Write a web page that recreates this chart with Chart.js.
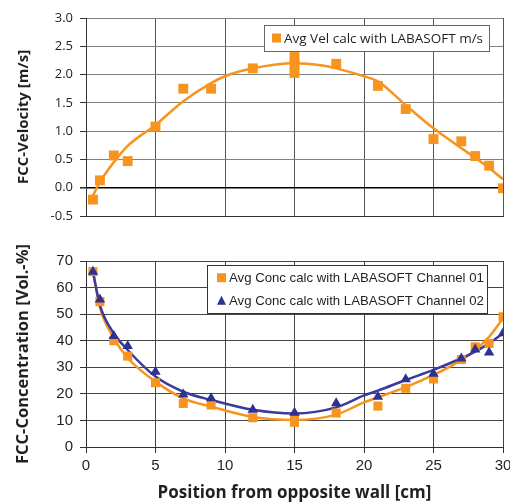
<!DOCTYPE html>
<html>
<head>
<meta charset="utf-8">
<script src="https://cdn.jsdelivr.net/npm/chart.js@4.4.1/dist/chart.umd.min.js"></script>
<style>
html, body { margin: 0; padding: 0; background: #fff; }
#wrap { position: relative; width: 510px; height: 503px; }
#velBox { position: absolute; left: 0; top: 0; width: 510px; height: 232px; }
#concBox { position: absolute; left: 0; top: 232px; width: 510px; height: 271px; }
</style>
</head>
<body>
<div id="wrap">
  <div id="velBox"><canvas id="velChart"></canvas></div>
  <div id="concBox"><canvas id="concChart"></canvas></div>
</div>
<script>
// measured points, position from opposite wall [cm]
var velX = [0.5, 1, 2, 3, 5, 7, 9, 12, 15, 15, 15, 18, 21, 23, 25, 27, 28, 29, 30];
var velVals = [-0.21, 0.13, 0.57, 0.47, 1.08, 1.75, 1.75, 2.11, 2.31, 2.18, 2.03, 2.19, 1.80, 1.39, 0.86, 0.82, 0.56, 0.39, -0.01];

// trend line
var velTrendX = [0.5, 1, 2, 3, 5, 7, 9, 10, 12, 15, 17, 18, 20, 21, 23, 25, 27, 28, 29, 30];
var velTrend = [-0.14, 0.10, 0.45, 0.74, 1.11, 1.53, 1.85, 1.97, 2.11, 2.20, 2.16, 2.11, 1.97, 1.88, 1.46, 1.05, 0.70, 0.53, 0.35, 0.15];

var conc01X = [0.5, 1, 2, 3, 5, 7, 9, 12, 15, 15, 18, 21, 23, 25, 27, 28, 29, 30];
var conc01 = [66.0, 54.7, 40.0, 34.2, 24.2, 16.4, 15.8, 11.0, 10.6, 9.3, 12.8, 15.4, 22.1, 25.6, 32.9, 37.7, 39.0, 49.0];
var conc02X = [0.5, 1, 2, 3, 5, 7, 9, 12, 15, 18, 21, 23, 25, 27, 28, 29, 30];
var conc02 = [66.0, 55.5, 41.8, 38.0, 28.3, 19.8, 18.3, 14.0, 12.9, 16.5, 18.9, 25.5, 27.6, 33.3, 36.7, 35.6, 42.8];

var concTrendX = [0.5, 1, 2, 3, 5, 7, 9, 12, 15, 18, 20, 21, 23, 25, 27, 28, 29, 30];
var conc01Trend = [66, 52.5, 41, 33.5, 24.6, 18.3, 15.2, 11.3, 10.2, 12.2, 16.8, 18.7, 22.5, 27.1, 32.7, 36.5, 41.5, 48.4];
var conc02Trend = [66, 53.4, 42.8, 36.5, 26.5, 20.8, 17.7, 14.0, 12.6, 14.9, 19.4, 21.2, 25.2, 29.0, 33.4, 35.9, 39.0, 42.8];

var xTicks = [0, 5, 10, 15, 20, 25, 30];
var velTicks = [-0.5, 0, 0.5, 1, 1.5, 2, 2.5, 3];
var concTicks = [0, 10, 20, 30, 40, 50, 60, 70];

var ORANGE = '#F7941D';
var NAVY = '#2E3192';
var BLUE_LINE = '#3A3C9C';
var INK = '#231F20';

function toXY(xs, ys) {
  return xs.map(function (x, i) { return { x: x, y: ys[i] }; });
}

function fixTicks(list) {
  return function (scale) {
    scale.ticks = list.map(function (v) { return { value: v }; });
  };
}

// legend box drawn inside the plot area
var boxLegend = {
  id: 'boxLegend',
  afterDraw: function (chart, args, opts) {
    var ctx = chart.ctx, area = chart.chartArea;
    var items = chart.data.datasets.filter(function (d) { return d.legendRank; })
      .sort(function (a, b) { return a.legendRank - b.legendRank; });
    ctx.save();
    ctx.font = opts.font;
    var textW = 0;
    items.forEach(function (d) { textW = Math.max(textW, ctx.measureText(d.label).width); });
    var w = Math.round(opts.padLeft + opts.marker + opts.gap + textW + opts.padRight);
    var h = Math.round(opts.rowH * items.length + opts.padV * 2);
    var x = Math.round(area.right - opts.right - w), y = Math.round(area.top + opts.top);
    ctx.fillStyle = '#fff';
    ctx.fillRect(x, y, w, h);
    ctx.strokeStyle = opts.border;
    ctx.lineWidth = 1;
    ctx.strokeRect(x + 0.5, y + 0.5, w, h);
    items.forEach(function (d, i) {
      var cy = y + opts.padV + opts.rowH * (i + 0.5);
      var mx = x + opts.padLeft;
      var m = opts.marker;
      ctx.fillStyle = d.backgroundColor;
      if (d.pointStyle === 'triangle') {
        ctx.beginPath();
        ctx.moveTo(mx + m / 2, cy - m / 2);
        ctx.lineTo(mx + m, cy + m / 2);
        ctx.lineTo(mx, cy + m / 2);
        ctx.closePath();
        ctx.fill();
      } else {
        ctx.fillRect(mx, cy - m / 2, m, m);
      }
      ctx.fillStyle = INK;
      ctx.textBaseline = 'middle';
      ctx.textAlign = 'left';
      ctx.fillText(d.label, mx + m + opts.gap, cy + 1);
    });
    ctx.restore();
  }
};

Chart.defaults.animation = false;
Chart.defaults.plugins.tooltip.enabled = false;
Chart.defaults.plugins.legend.display = false;

new Chart(document.getElementById('velChart'), {
  type: 'scatter',
  data: {
    datasets: [{
      label: 'Avg Vel calc with LABASOFT m/s',
      legendRank: 1,
      data: toXY(velX, velVals),
      pointStyle: 'rect',
      pointRadius: 7,
      pointBorderWidth: 0,
      backgroundColor: ORANGE,
      borderColor: ORANGE
    }, {
      label: 'trend',
      data: toXY(velTrendX, velTrend),
      showLine: true,
      pointRadius: 0,
      borderColor: ORANGE,
      borderWidth: 2.5,
      cubicInterpolationMode: 'monotone'
    }]
  },
  options: {
    responsive: true,
    maintainAspectRatio: false,
    layout: { padding: { left: 0, right: 7, top: 18, bottom: 0 } },
    scales: {
      x: {
        type: 'linear', min: 0, max: 30,
        afterBuildTicks: fixTicks(xTicks),
        ticks: { display: false },
        grid: { color: '#555', drawTicks: false },
        border: { color: '#333' },
        afterFit: function (s) { s.height = 16; }
      },
      y: {
        min: -0.5, max: 3,
        afterBuildTicks: fixTicks(velTicks),
        ticks: {
          padding: 7, color: INK,
          font: { family: 'Open Sans', size: 13 },
          callback: function (v) { return v.toFixed(1); }
        },
        grid: {
          color: function (c) { return c.tick && c.tick.value === 0 ? '#000' : '#808080'; },
          lineWidth: function (c) { return c.tick && c.tick.value === 0 ? 1.6 : 1; },
          tickLength: 6, tickColor: '#333'
        },
        border: { color: '#333' },
        title: {
          display: true, text: 'FCC-Velocity [m/s]', color: INK,
          font: { family: 'Open Sans', size: 15, weight: 'bold' },
          padding: { top: 15, bottom: 0 }
        },
        afterFit: function (s) { s.width = 86; }
      }
    },
    plugins: {
      boxLegend: {
        font: '13.5px "Open Sans"', border: '#666',
        right: 14, top: 7, padLeft: 8, marker: 9, gap: 3, padRight: 6,
        rowH: 26, padV: 0
      }
    }
  },
  plugins: [boxLegend]
});

new Chart(document.getElementById('concChart'), {
  type: 'scatter',
  data: {
    datasets: [{
      label: 'Avg Conc calc with LABASOFT Channel 02',
      legendRank: 2,
      data: toXY(conc02X, conc02),
      pointStyle: 'triangle',
      pointRadius: 6,
      pointBorderWidth: 0,
      backgroundColor: NAVY,
      borderColor: NAVY
    }, {
      label: 'Avg Conc calc with LABASOFT Channel 01',
      legendRank: 1,
      data: toXY(conc01X, conc01),
      pointStyle: 'rect',
      pointRadius: 6.4,
      pointBorderWidth: 0,
      backgroundColor: ORANGE,
      borderColor: ORANGE
    }, {
      label: 'trend 02',
      data: toXY(concTrendX, conc02Trend),
      showLine: true,
      pointRadius: 0,
      borderColor: BLUE_LINE,
      borderWidth: 2.5,
      cubicInterpolationMode: 'monotone'
    }, {
      label: 'trend 01',
      data: toXY(concTrendX, conc01Trend),
      showLine: true,
      pointRadius: 0,
      borderColor: ORANGE,
      borderWidth: 2.5,
      cubicInterpolationMode: 'monotone'
    }]
  },
  options: {
    responsive: true,
    maintainAspectRatio: false,
    layout: { padding: { left: 0, right: 7, top: 29, bottom: 0 } },
    scales: {
      x: {
        type: 'linear', min: 0, max: 30,
        afterBuildTicks: fixTicks(xTicks),
        ticks: {
          padding: 4, color: INK,
          font: { family: 'Liberation Sans', size: 15 }
        },
        grid: { color: '#444', tickLength: 6, tickColor: '#333' },
        border: { color: '#333' },
        title: {
          display: true, text: 'Position from opposite wall [cm]', color: INK,
          font: { family: 'Open Sans', size: 17, weight: 'bold' },
          padding: { top: 0, bottom: 0 }
        },
        afterFit: function (s) { s.height = 56; s.paddingRight = 0; }
      },
      y: {
        min: 0, max: 70,
        afterBuildTicks: fixTicks(concTicks),
        ticks: {
          padding: 7, color: INK,
          font: { family: 'Liberation Sans', size: 15 }
        },
        grid: { color: '#444', tickLength: 6, tickColor: '#333' },
        border: { color: '#333' },
        title: {
          display: true, text: 'FCC-Concentration [Vol.-%]', color: INK,
          font: { family: 'Open Sans', size: 16.5, weight: 'bold' },
          padding: { top: 13, bottom: 0 }
        },
        afterFit: function (s) { s.width = 86; }
      }
    },
    plugins: {
      boxLegend: {
        font: '13.2px "Liberation Sans"', border: '#333',
        right: 16, top: 4, padLeft: 10, marker: 9, gap: 3, padRight: 3,
        rowH: 22.5, padV: 1.5
      }
    }
  },
  plugins: [boxLegend]
});
</script>
</body>
</html>
